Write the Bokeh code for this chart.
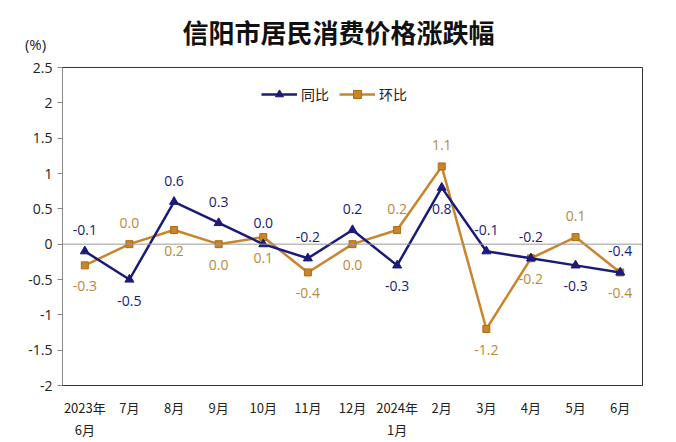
from bokeh.plotting import figure
from bokeh.layouts import column
from bokeh.models import ColumnDataSource, LabelSet, Legend, LegendItem, Span, FixedTicker, Range1d
from bokeh.core.properties import value
from bokeh.embed import file_html
from bokeh.resources import INLINE

title_text = "信阳市居民消费价格涨跌幅"
unit_text = "(%)"
months = ["2023年\n6月", "7月", "8月", "9月", "10月", "11月", "12月", "2024年\n1月", "2月", "3月", "4月", "5月", "6月"]
yoy = [-0.1, -0.5, 0.6, 0.3, 0.0, -0.2, 0.2, -0.3, 0.8, -0.1, -0.2, -0.3, -0.4]
mom = [-0.3, 0.0, 0.2, 0.0, 0.1, -0.4, 0.0, 0.2, 1.1, -1.2, -0.2, 0.1, -0.4]
# label placement: 1 = above, -1 = below
yoy_pos = [1, -1, 1, 1, 1, 1, 1, -1, -1, 1, 1, -1, 1]
mom_pos = [-1, 1, -1, -1, -1, -1, -1, 1, 1, -1, -1, 1, -1]
y_ticks = [-2, -1.5, -1, -0.5, 0, 0.5, 1, 1.5, 2, 2.5]

NAVY = "#1a1a78"
ORANGE = "#c9852c"
ORANGE_TXT = "#b8893a"
CJK = "Noto Sans CJK SC"
LAT = "Open Sans"

HEAD_H = 57
W = 676

# ---- header (title and unit) ----
head = figure(width=W, height=HEAD_H, x_range=Range1d(0, W), y_range=Range1d(HEAD_H, 0),
              output_backend="svg", toolbar_location=None,
              min_border=0, min_border_left=0, min_border_right=0, min_border_top=0, min_border_bottom=0)
try:
    head.frame_align = False
except Exception:
    pass
head.axis.visible = False
head.grid.visible = False
head.outline_line_color = None
head.text(x=[338], y=[31], text=[title_text], text_font=value(CJK), text_font_size="26px",
          text_font_style="bold", text_color="#111111", text_align="center", text_baseline="middle")
head.text(x=[35], y=[43], text=[unit_text], text_font=value(LAT), text_font_size="15px",
          text_color="#222222", text_align="center", text_baseline="middle")

# ---- main chart ----
p = figure(width=W, height=442 - HEAD_H, x_range=months, y_range=(-2, 2.5),
           output_backend="svg", toolbar_location=None,
           min_border_left=62, min_border_right=34, min_border_top=67 - HEAD_H, min_border_bottom=54)
try:
    p.frame_align = False
except Exception:
    pass
p.background_fill_color = "white"
p.outline_line_color = "#333333"
p.outline_line_width = 1
p.xgrid.visible = False
p.ygrid.visible = False

p.yaxis.ticker = FixedTicker(ticks=y_ticks)
p.yaxis.major_label_overrides = {t: ("%g" % t) for t in y_ticks}
p.yaxis.major_label_text_font = LAT
p.yaxis.major_label_text_font_size = "14px"
p.yaxis.major_label_text_color = "#222222"
p.yaxis.axis_line_color = "#888888"
p.yaxis.major_tick_line_color = "#888888"
p.yaxis.major_tick_in = 0
p.yaxis.major_tick_out = 5
p.yaxis.minor_tick_line_color = None

p.xaxis.major_label_text_font = CJK
p.xaxis.major_label_text_font_size = "13px"
p.xaxis.major_label_text_color = "#222222"
p.xaxis.axis_line_color = "#333333"
p.xaxis.major_tick_line_color = None
p.xaxis.major_label_standoff = 6

p.add_layout(Span(location=0, dimension="width", line_color="#999999", line_width=1))

src = ColumnDataSource(dict(
    x=months, yoy=yoy, mom=mom,
    yoy_txt=["%.1f" % v for v in yoy], mom_txt=["%.1f" % v for v in mom],
    yoy_off=[21 * s for s in yoy_pos], mom_off=[21 * s for s in mom_pos],
))

l2 = p.line("x", "mom", source=src, line_color=ORANGE, line_width=2.5)
m2 = p.scatter("x", "mom", source=src, marker="square", size=7, fill_color=ORANGE, line_color="#b06a10")
l1 = p.line("x", "yoy", source=src, line_color=NAVY, line_width=2.5)
m1 = p.scatter("x", "yoy", source=src, marker="triangle", size=9, fill_color=NAVY, line_color=NAVY)

p.add_layout(LabelSet(x="x", y="yoy", text="yoy_txt", y_offset="yoy_off", source=src,
                      text_align="center", text_baseline="middle", text_color=NAVY,
                      text_font=value(LAT), text_font_size="14px"))
p.add_layout(LabelSet(x="x", y="mom", text="mom_txt", y_offset="mom_off", source=src,
                      text_align="center", text_baseline="middle", text_color=ORANGE_TXT,
                      text_font=value(LAT), text_font_size="14px"))

legend = Legend(items=[LegendItem(label="同比", renderers=[l1, m1]),
                       LegendItem(label="环比", renderers=[l2, m2])],
                orientation="horizontal", location=(199, 281),
                border_line_color=None, background_fill_alpha=0,
                label_text_font=CJK, label_text_font_size="14px", label_text_color="#222222",
                glyph_width=36, spacing=10, label_standoff=4)
p.add_layout(legend)

layout = column(head, p, spacing=0)
open("out.html", "w").write(file_html(layout, INLINE))
